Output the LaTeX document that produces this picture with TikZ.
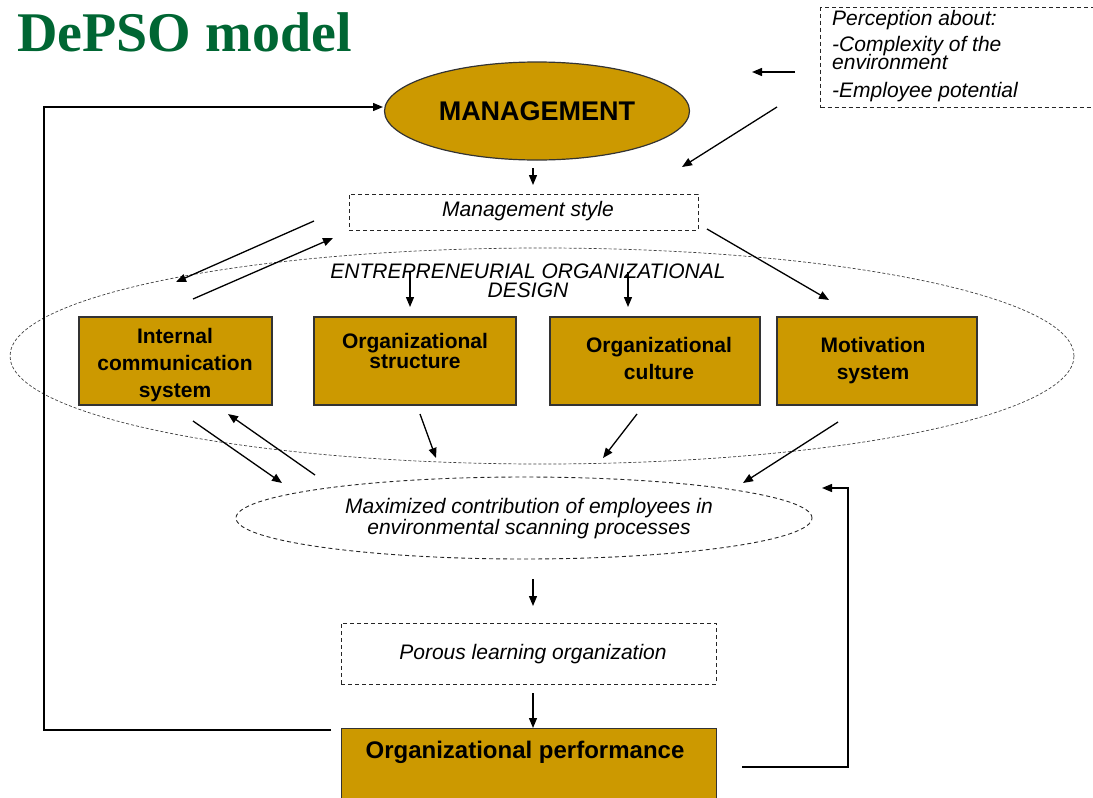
\documentclass[tikz,border=0pt]{standalone}
\usepackage{fontspec}
\setmainfont{Liberation Sans}
\newfontfamily\titlefont{Liberation Serif}
\usetikzlibrary{shapes.geometric,arrows.meta}
\definecolor{gold}{RGB}{204,153,0}
\definecolor{titlegreen}{RGB}{0,102,51}
\begin{document}
\begin{tikzpicture}[x=1pt,y=-1pt,
  arr/.style={-{Triangle[length=10pt,width=8pt]}, line width=1.3pt},
  fb/.style={line width=1.3pt},
  goldbox/.style={draw=black!80, fill=gold, line width=1.2pt, inner sep=0pt},
  dbox/.style={draw=black!85, dash pattern=on 4pt off 3pt, line width=1pt, inner sep=0pt},
  lbl/.style={font=\fontsize{21}{21}\selectfont\itshape, inner sep=0pt, anchor=base},
  lblw/.style={font=\fontsize{21}{21}\selectfont\itshape, inner sep=0pt, anchor=base west},
  btxt/.style={font=\fontsize{21}{21}\selectfont\bfseries, inner sep=0pt, anchor=base}
]
\useasboundingbox (0,0) rectangle (1093,798);

% title
\node[anchor=base west, inner sep=0pt, text=titlegreen,
      font=\fontsize{56}{56}\selectfont\titlefont\bfseries] (title) at (17,51) {DePSO model};

% perception box
\node[dbox, anchor=north west, minimum width=290pt, minimum height=100pt] (perc) at (820,7) {};
\node[lblw] (p1) at (832,25) {Perception about:};
\node[lblw] (p2) at (832,51) {-Complexity of the};
\node[lblw] (p3) at (832,69) {environment};
\node[lblw] (p4) at (832,97) {-Employee potential};
\coordinate (pa1) at (795,72);
\coordinate (pa2) at (752,72);
\coordinate (pb1) at (777,107);
\coordinate (pb2) at (682,167);
\draw[arr] (pa1) -- (pa2);
\draw[arr] (pb1) -- (pb2);

% management
\node[ellipse, goldbox, minimum width=305pt, minimum height=98pt,
      font=\fontsize{27}{27}\selectfont\bfseries] (mgmt) at (537,111) {MANAGEMENT};

% management style
\node[dbox, minimum width=349pt, minimum height=36pt] (mstyle) at (523.5,212) {};
\node[lbl] (mstxt) at (528,216) {Management style};
\coordinate (ma1) at (533,168);
\coordinate (ma2) at (533,185);
\draw[arr] (ma1) -- (ma2);

% entrepreneurial design ellipse
\node[ellipse, draw=black!75, dash pattern=on 3pt off 2pt, line width=0.7pt,
      minimum width=1064pt, minimum height=216pt, inner sep=0pt] (eod) at (542,356) {};
\node[lbl] (eodt1) at (528,278) {ENTREPRENEURIAL ORGANIZATIONAL};
\node[lbl] (eodt2) at (528,297) {DESIGN};

% arrows between management style and design
\coordinate (s1a) at (314,221);
\coordinate (s1b) at (176,282);
\coordinate (s2a) at (193,299);
\coordinate (s2b) at (333,238);
\coordinate (s3a) at (707,229);
\coordinate (s3b) at (829,300);
\coordinate (d1a) at (410,272);
\coordinate (d1b) at (410,307);
\coordinate (d2a) at (628,272);
\coordinate (d2b) at (628,307);
\draw[arr] (s1a) -- (s1b);
\draw[arr] (s2a) -- (s2b);
\draw[arr] (s3a) -- (s3b);
\draw[arr] (d1a) -- (d1b);
\draw[arr] (d2a) -- (d2b);

% four boxes
\node[goldbox, minimum width=193pt, minimum height=88pt] (b1) at (175.5,361) {};
\node[goldbox, minimum width=202pt, minimum height=88pt] (b2) at (415,361) {};
\node[goldbox, minimum width=210pt, minimum height=88pt] (b3) at (655,361) {};
\node[goldbox, minimum width=200pt, minimum height=88pt] (b4) at (877,361) {};
\node[btxt] (b1t1) at (175,343) {Internal};
\node[btxt] (b1t2) at (175,370) {communication};
\node[btxt] (b1t3) at (175,397) {system};
\node[btxt] (b2t1) at (415,348) {Organizational};
\node[btxt] (b2t2) at (415,368) {structure};
\node[btxt] (b3t1) at (659,352) {Organizational};
\node[btxt] (b3t2) at (659,379) {culture};
\node[btxt] (b4t1) at (873,352) {Motivation};
\node[btxt] (b4t2) at (873,379) {system};

% maximized contribution ellipse
\node[ellipse, draw=black!85, dash pattern=on 4pt off 3pt, line width=0.9pt,
      minimum width=576pt, minimum height=82pt, inner sep=0pt] (maxc) at (524,518) {};
\node[lbl] (mx1) at (529,513) {Maximized contribution of employees in};
\node[lbl] (mx2) at (529,534) {environmental scanning processes};

% arrows from boxes to maximized ellipse
\coordinate (e1a) at (193,421);
\coordinate (e1b) at (282,483);
\coordinate (e2a) at (315,475);
\coordinate (e2b) at (228,414);
\coordinate (e3a) at (420,414);
\coordinate (e3b) at (436,458);
\coordinate (e4a) at (637,414);
\coordinate (e4b) at (603,458);
\coordinate (e5a) at (838,422);
\coordinate (e5b) at (743,483);
\draw[arr] (e1a) -- (e1b);
\draw[arr] (e2a) -- (e2b);
\draw[arr] (e3a) -- (e3b);
\draw[arr] (e4a) -- (e4b);
\draw[arr] (e5a) -- (e5b);

% porous learning organization
\coordinate (f1a) at (533,579);
\coordinate (f1b) at (533,606);
\draw[arr] (f1a) -- (f1b);
\node[dbox, minimum width=375pt, minimum height=61pt] (porous) at (528.5,653.5) {};
\node[lbl] (portxt) at (533,659) {Porous learning organization};
\coordinate (f2a) at (533,693);
\coordinate (f2b) at (533,728);
\draw[arr] (f2a) -- (f2b);

% organizational performance
\node[goldbox, anchor=north west, minimum width=375pt, minimum height=80pt] (perf) at (341,728) {};
\node[anchor=base, inner sep=0pt, font=\fontsize{24}{24}\selectfont\bfseries] (perft) at (525,758) {Organizational performance};

% feedback loops
\coordinate (lf1) at (331,730);
\coordinate (lf2) at (44,730);
\coordinate (lf3) at (383,107);
\draw[arr] (lf1) -- (lf2) |- (lf3);
\coordinate (rf1) at (742,767);
\coordinate (rf2) at (848,767);
\coordinate (rf3) at (822,488);
\draw[arr] (rf1) -- (rf2) |- (rf3);
\end{tikzpicture}
\end{document}
